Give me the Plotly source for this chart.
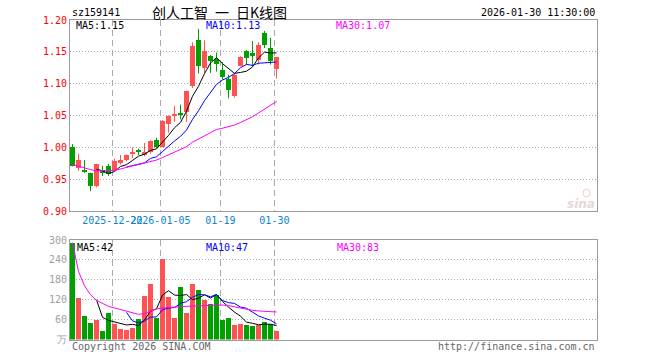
import plotly.graph_objects as go
import pandas as pd

# ---------------- data ----------------
dates = ["2025-12-11", "2025-12-12", "2025-12-15", "2025-12-16", "2025-12-17",
         "2025-12-18", "2025-12-19", "2025-12-22", "2025-12-23", "2025-12-24",
         "2025-12-25", "2025-12-26", "2025-12-29", "2025-12-30", "2025-12-31",
         "2026-01-05", "2026-01-06", "2026-01-07", "2026-01-08", "2026-01-09",
         "2026-01-12", "2026-01-13", "2026-01-14", "2026-01-15", "2026-01-16",
         "2026-01-19", "2026-01-20", "2026-01-21", "2026-01-22", "2026-01-23",
         "2026-01-26", "2026-01-27", "2026-01-28", "2026-01-29", "2026-01-30"]

opens = [1.000, 0.968, 0.964, 0.959, 0.940, 0.965, 0.970, 0.964, 0.976, 0.980,
         0.990, 0.996, 0.988, 0.992, 1.011, 1.000, 1.036, 1.050, 1.053, 1.055,
         1.096, 1.169, 1.125, 1.144, 1.139, 1.122, 1.108, 1.080, 1.128, 1.152,
         1.148, 1.137, 1.180, 1.156, 1.123]
highs = [1.005, 0.990, 0.980, 0.960, 0.974, 0.971, 0.974, 0.982, 0.988, 0.989,
         1.000, 0.998, 1.007, 1.011, 1.015, 1.043, 1.050, 1.065, 1.067, 1.089,
         1.165, 1.186, 1.168, 1.145, 1.149, 1.134, 1.114, 1.116, 1.143, 1.153,
         1.167, 1.165, 1.183, 1.172, 1.142]
lows = [0.970, 0.963, 0.960, 0.931, 0.937, 0.955, 0.955, 0.963, 0.973, 0.978,
        0.983, 0.988, 0.986, 0.990, 0.999, 1.000, 1.023, 1.040, 1.044, 1.040,
        1.093, 1.116, 1.117, 1.117, 1.119, 1.107, 1.077, 1.078, 1.127, 1.130,
        1.128, 1.130, 1.156, 1.130, 1.108]
closes = [0.971, 0.980, 0.962, 0.940, 0.974, 0.960, 0.958, 0.978, 0.980, 0.988,
          0.993, 0.992, 0.993, 1.010, 1.000, 1.042, 1.049, 1.053, 1.052, 1.088,
          1.159, 1.128, 1.152, 1.135, 1.131, 1.111, 1.090, 1.114, 1.142, 1.141,
          1.144, 1.161, 1.160, 1.135, 1.142]
ma30_price = [0.973, 0.970, 0.967, 0.965, 0.963, 0.963, 0.963, 0.964, 0.966, 0.969,
              0.971, 0.973, 0.975, 0.977, 0.980, 0.984, 0.988, 0.993, 0.997, 1.001,
              1.008, 1.013, 1.019, 1.024, 1.028, 1.030, 1.032, 1.035, 1.039, 1.043,
              1.048, 1.054, 1.060, 1.066, 1.072]

volumes = [292, 126, 72, 51, 58, 27, 81, 48, 33, 30,
           36, 63, 132, 166, 66, 243, 129, 66, 159, 81,
           166, 150, 120, 108, 135, 60, 66, 44, 47, 45,
           42, 44, 52, 47, 26]
ma30_vol = [292, 205, 162, 135, 118, 108, 100, 95, 90, 86,
            80, 76, 78, 84, 92, 95, 97, 98, 99, 100,
            101, 102, 103, 104, 105, 104, 102, 98, 94, 91,
            88, 86, 84, 84, 83]

price_ticks = [0.90, 0.95, 1.00, 1.05, 1.10, 1.15, 1.20]
vol_ticks = [0, 60, 120, 180, 240, 300]
vol_tick_text = ["万", "60", "120", "180", "240", "300"]
tick_dates = ["2025-12-22", "2026-01-05", "2026-01-19", "2026-01-30"]
tick_labels = ["2025-12-22", "2026-01-05", "01-19", "01-30"]

code = "sz159141"
title = "创人工智\u2002一\u2002日K线图"
stamp = "2026-01-30 11:30:00"

# ---------------- derived ----------------
RED = "#ff5252"
GREEN = "#00a000"
n = len(closes)
idx = list(range(n))
up = [c >= o for o, c in zip(opens, closes)]
colors = [RED if u else GREEN for u in up]
ma5_price = pd.Series(closes).rolling(5).mean()
ma10_price = pd.Series(closes).rolling(10).mean()
ma5_vol = pd.Series(volumes).rolling(5).mean()
ma10_vol = pd.Series(volumes).rolling(10).mean()

body_base = [min(o, c) for o, c in zip(opens, closes)]
body_h = [max(abs(c - o), 0.0016) for o, c in zip(opens, closes)]

def wick_xy(want_up):
    xs, ys = [], []
    for i in idx:
        if up[i] == want_up:
            xs += [i, i, None]
            ys += [lows[i], highs[i], None]
    return xs, ys

W, H = 660, 360
L_PX, R_PX = 70, 597
SLOT = 6.0
x0 = -2.5 / SLOT
x1 = x0 + (R_PX - L_PX) / SLOT
grid_x = [dates.index(d) - 0.35 for d in tick_dates]
MONO = "DejaVu Sans Mono"

fig = go.Figure()
for want_up, col in [(True, RED), (False, GREEN)]:
    wx, wy = wick_xy(want_up)
    fig.add_trace(go.Scatter(x=wx, y=wy, mode="lines", line=dict(color=col, width=1),
                             hoverinfo="skip", xaxis="x", yaxis="y"))
fig.add_trace(go.Bar(x=idx, y=body_h, base=body_base, width=0.8,
                     marker=dict(color=colors, line=dict(width=0)), xaxis="x", yaxis="y"))
fig.add_trace(go.Scatter(x=idx, y=ma5_price, mode="lines", line=dict(color="black", width=1),
                         xaxis="x", yaxis="y"))
fig.add_trace(go.Scatter(x=idx, y=ma10_price, mode="lines", line=dict(color="#0000ff", width=1),
                         xaxis="x", yaxis="y"))
fig.add_trace(go.Scatter(x=idx, y=ma30_price, mode="lines", line=dict(color="#ff00ff", width=1),
                         xaxis="x", yaxis="y"))

fig.add_trace(go.Bar(x=idx, y=volumes, width=0.88,
                     marker=dict(color=colors, line=dict(width=0)), xaxis="x2", yaxis="y2"))
fig.add_trace(go.Scatter(x=idx, y=ma5_vol, mode="lines", line=dict(color="black", width=1),
                         xaxis="x2", yaxis="y2"))
fig.add_trace(go.Scatter(x=idx, y=ma10_vol, mode="lines", line=dict(color="#0000ff", width=1),
                         xaxis="x2", yaxis="y2"))
fig.add_trace(go.Scatter(x=idx, y=ma30_vol, mode="lines", line=dict(color="#ff00ff", width=1),
                         xaxis="x2", yaxis="y2"))

xdom = [L_PX / W, R_PX / W]
common_x = dict(range=[x0, x1], domain=xdom, showgrid=True, gridcolor="#aaaaaa",
                griddash="6px,4px", gridwidth=1, zeroline=False, showline=True,
                mirror=True, linecolor="#9a9a9a", linewidth=1, ticks="",
                tickvals=grid_x, tickangle=0, fixedrange=True, automargin=False)
common_y = dict(showgrid=True, gridcolor="#aaaaaa", griddash="1px,2px", zeroline=False,
                showline=True, mirror=True, linecolor="#9a9a9a", ticks="",
                fixedrange=True, automargin=False)
fig.update_layout(
    width=W, height=H, margin=dict(l=0, r=0, t=0, b=0, pad=0), autosize=False,
    paper_bgcolor="white", plot_bgcolor="white", showlegend=False, bargap=0,
    xaxis=dict(**common_x, anchor="y", ticktext=tick_labels,
               tickfont=dict(family=MONO, size=10, color="#0a84d6")),
    xaxis2=dict(**common_x, anchor="y2", showticklabels=False),
    yaxis=dict(**common_y, domain=[1 - 211 / H, 1 - 20 / H], range=[0.90, 1.20],
               tickvals=price_ticks, ticktext=[f"{v:.2f}" for v in price_ticks],
               tickfont=dict(family=MONO, size=10, color="#ff0000")),
    yaxis2=dict(**common_y, domain=[1 - 339.5 / H, 1 - 240 / H], range=[0, 300],
                tickvals=vol_ticks, ticktext=vol_tick_text,
                tickfont=dict(family=MONO, size=10, color="#a0a0a0")),
)

def txt(x, y, s, color="black", anchor="left", size=10, family=MONO, **kw):
    fig.add_annotation(x=x / W, y=1 - y / H, xref="paper", yref="paper", text=s,
                       showarrow=False, xanchor=anchor, yanchor="middle",
                       font=dict(family=family, size=size, color=color), **kw)

txt(70, 13, code)
txt(150, 12.5, title, size=14, family="Noto Sans CJK SC")
txt(597, 13, stamp, anchor="right")
txt(74, 26, f"MA5:{ma5_price.iloc[-1]:.2f}")
txt(204, 26, f"MA10:{ma10_price.iloc[-1]:.2f}", color="#0000ff")
txt(334, 26, f"MA30:{ma30_price[-1]:.2f}", color="#ff00ff")
txt(75, 247, f"MA5:{ma5_vol.iloc[-1]:.0f}")
txt(204, 247, f"MA10:{ma10_vol.iloc[-1]:.0f}", color="#0000ff")
txt(335, 247, f"MA30:{ma30_vol[-1]:.0f}", color="#ff00ff")
txt(70, 346, "Copyright 2026 SINA.COM", color="#666666")
txt(597, 346, "http://finance.sina.com.cn", color="#666666", anchor="right")
fig.add_annotation(x=597 / W, y=1 - 204 / H, xref="paper", yref="paper", text="<i><b>sina</b></i>",
                   showarrow=False, xanchor="right", yanchor="middle",
                   font=dict(family="DejaVu Sans", size=12, color="#e6d8d8"))
fig.add_shape(type="circle", xref="paper", yref="paper",
              x0=583 / W, x1=590 / W, y0=1 - 197 / H, y1=1 - 189 / H,
              line=dict(color="#f3cec4", width=1), fillcolor="rgba(0,0,0,0)")

fig.write_html("out.html", config={"responsive": False, "displayModeBar": False},
               post_script="document.body.style.margin='0';document.body.style.overflow='hidden';")
